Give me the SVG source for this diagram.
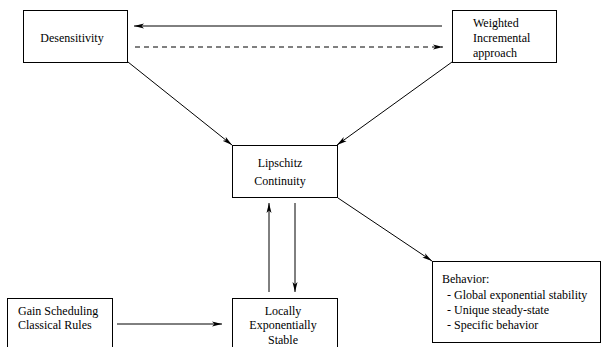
<svg xmlns="http://www.w3.org/2000/svg" width="604" height="347" viewBox="0 0 604 347">
<style>
.box{fill:#fff;stroke:#000;stroke-width:1}
.t{font-family:"Liberation Serif","Times New Roman",serif;font-size:12px;fill:#000}
.c{text-anchor:middle}
.e{stroke:#000;stroke-width:1;fill:none}
.d{stroke-dasharray:5,4}
</style>
<defs>
<marker id="ah" viewBox="0 0 10 6" refX="10" refY="3" markerWidth="10" markerHeight="6" markerUnits="userSpaceOnUse" orient="auto">
<path d="M0,0.5 L10,3 L0,5.5 L2.5,3 Z" fill="#000"/>
</marker>
</defs>
<rect width="604" height="347" fill="#fff"/>
<g id="connectors">
<line class="e" x1="442" y1="26" x2="134" y2="26" marker-end="url(#ah)"/>
<line class="e d" x1="135" y1="47" x2="443" y2="47" marker-end="url(#ah)"/>
<line class="e" x1="128" y1="62" x2="232" y2="145" marker-end="url(#ah)"/>
<line class="e" x1="452" y1="62" x2="337" y2="145" marker-end="url(#ah)"/>
<line class="e" x1="338" y1="198" x2="432" y2="261" marker-end="url(#ah)"/>
<line class="e" x1="269" y1="292" x2="269" y2="203" marker-end="url(#ah)"/>
<line class="e" x1="295" y1="203" x2="295" y2="292" marker-end="url(#ah)"/>
<line class="e" x1="117" y1="324" x2="222" y2="324" marker-end="url(#ah)"/>
</g>
<g id="desensitivity">
<rect class="box" x="23.5" y="10.5" width="104" height="52"/>
<text class="t c" x="72" y="42">Desensitivity</text>
</g>
<g id="weighted">
<rect class="box" x="452.5" y="10.5" width="104" height="52"/>
<text class="t" x="473" y="27">Weighted</text>
<text class="t" x="473" y="42">Incremental</text>
<text class="t" x="473" y="57">approach</text>
</g>
<g id="lipschitz">
<rect class="box" x="232.5" y="145.5" width="105" height="52"/>
<text class="t c" x="280" y="167">Lipschitz</text>
<text class="t c" x="280" y="185">Continuity</text>
</g>
<g id="behavior">
<rect class="box" x="432.5" y="261.5" width="168" height="81"/>
<text class="t" x="442" y="283">Behavior:</text>
<text class="t" x="447" y="299">- Global exponential stability</text>
<text class="t" x="447" y="314">- Unique steady-state</text>
<text class="t" x="447" y="329">- Specific behavior</text>
</g>
<g id="gain">
<rect class="box" x="7.5" y="298.5" width="105" height="60"/>
<text class="t" x="18" y="315">Gain Scheduling</text>
<text class="t" x="18" y="329">Classical Rules</text>
</g>
<g id="locally">
<rect class="box" x="232.5" y="298.5" width="105" height="60"/>
<text class="t c" x="283" y="315">Locally</text>
<text class="t c" x="283" y="329">Exponentially</text>
<text class="t c" x="283" y="344">Stable</text>
</g>
</svg>
